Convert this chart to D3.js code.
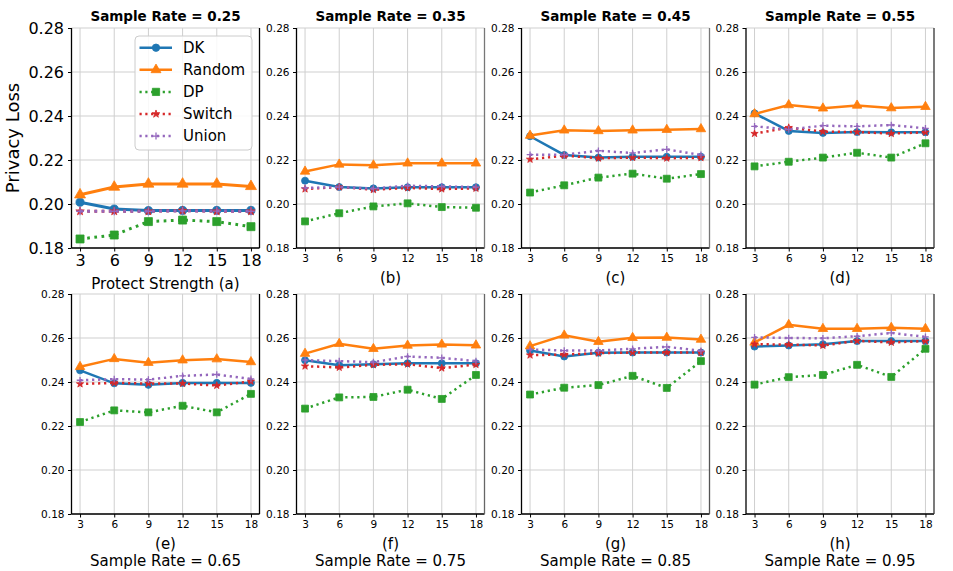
<!DOCTYPE html>
<html><head><meta charset="utf-8">
<script src="https://cdn.jsdelivr.net/npm/d3@7"></script>
<style>body{margin:0;background:#fff}svg{display:block;font-family:"DejaVu Sans",sans-serif}</style>
</head><body><svg id="c" width="953" height="571"></svg>
<script>
const protectStrength = [3, 6, 9, 12, 15, 18];
const yTicks = [0.18, 0.20, 0.22, 0.24, 0.26, 0.28];
const sampleRates = ["0.25", "0.35", "0.45", "0.55", "0.65", "0.75", "0.85", "0.95"];
const panelLetters = ["a", "b", "c", "d", "e", "f", "g", "h"];
const seriesNames = ["DK", "Random", "DP", "Switch", "Union"];

const dk = [
  [0.2008, 0.1977, 0.1970, 0.1971, 0.1971, 0.1971],
  [0.2106, 0.2077, 0.2071, 0.2076, 0.2076, 0.2076],
  [0.2308, 0.2223, 0.2211, 0.2215, 0.2215, 0.2215],
  [0.2412, 0.2332, 0.2323, 0.2327, 0.2326, 0.2326],
  [0.2453, 0.2394, 0.2387, 0.2396, 0.2396, 0.2396],
  [0.2499, 0.2476, 0.2481, 0.2485, 0.2485, 0.2485],
  [0.2543, 0.2516, 0.2533, 0.2534, 0.2534, 0.2534],
  [0.2561, 0.2566, 0.2572, 0.2586, 0.2586, 0.2586]
];
const random = [
  [0.2042, 0.2077, 0.2091, 0.2091, 0.2091, 0.2080],
  [0.2148, 0.2180, 0.2176, 0.2185, 0.2185, 0.2185],
  [0.2311, 0.2335, 0.2332, 0.2335, 0.2338, 0.2341],
  [0.2409, 0.2450, 0.2435, 0.2448, 0.2436, 0.2442],
  [0.2469, 0.2505, 0.2488, 0.2499, 0.2504, 0.2491],
  [0.2529, 0.2574, 0.2551, 0.2566, 0.2571, 0.2567],
  [0.2563, 0.2612, 0.2583, 0.2601, 0.2602, 0.2593],
  [0.2580, 0.2660, 0.2642, 0.2642, 0.2647, 0.2642]
];
const dp = [
  [0.1841, 0.1859, 0.1920, 0.1927, 0.1920, 0.1897],
  [0.1921, 0.1958, 0.1989, 0.2003, 0.1986, 0.1983],
  [0.2052, 0.2085, 0.2120, 0.2138, 0.2115, 0.2136],
  [0.2171, 0.2192, 0.2211, 0.2233, 0.2211, 0.2276],
  [0.2218, 0.2271, 0.2262, 0.2292, 0.2262, 0.2346],
  [0.2279, 0.2330, 0.2332, 0.2365, 0.2323, 0.2432],
  [0.2343, 0.2374, 0.2386, 0.2428, 0.2373, 0.2495],
  [0.2388, 0.2422, 0.2432, 0.2478, 0.2423, 0.2551]
];
const switchLoss = [
  [0.1967, 0.1967, 0.1967, 0.1970, 0.1967, 0.1967],
  [0.2068, 0.2077, 0.2065, 0.2073, 0.2068, 0.2071],
  [0.2203, 0.2220, 0.2208, 0.2211, 0.2208, 0.2210],
  [0.2320, 0.2347, 0.2329, 0.2327, 0.2320, 0.2326],
  [0.2391, 0.2396, 0.2393, 0.2393, 0.2384, 0.2403],
  [0.2472, 0.2466, 0.2478, 0.2481, 0.2463, 0.2479],
  [0.2522, 0.2525, 0.2531, 0.2534, 0.2534, 0.2534],
  [0.2572, 0.2570, 0.2566, 0.2587, 0.2580, 0.2586]
];
const union = [
  [0.1967, 0.1967, 0.1967, 0.1969, 0.1968, 0.1967],
  [0.2073, 0.2077, 0.2070, 0.2083, 0.2080, 0.2077],
  [0.2224, 0.2224, 0.2242, 0.2232, 0.2248, 0.2223],
  [0.2353, 0.2339, 0.2356, 0.2353, 0.2359, 0.2344],
  [0.2408, 0.2413, 0.2411, 0.2428, 0.2434, 0.2414],
  [0.2499, 0.2495, 0.2490, 0.2516, 0.2510, 0.2495],
  [0.2548, 0.2543, 0.2543, 0.2551, 0.2560, 0.2542],
  [0.2603, 0.2600, 0.2599, 0.2608, 0.2623, 0.2605]
];

const seriesData = [dk, random, dp, switchLoss, union];
const colors = ["#1f77b4", "#ff7f0e", "#2ca02c", "#d62728", "#9467bd"];
const dashed = [false, false, true, true, true];
const symbols = [d3.symbolCircle, d3.symbolTriangle, d3.symbolSquare, d3.symbolStar, d3.symbolPlus];
const strokeSym = [false, false, false, false, true];

const svg = d3.select("#c");
const lefts = [71.5, 296.5, 521.5, 746];
const tops = [28, 294];
const W = 188, H = 220;
const rightSpine = ["#000", "#777", "#777", "#333", "#000", "#666", "#555", "#333"];

function symSize(i, big) {
  const s = [52, 52, 64, 22, 22][i];
  return big ? s : s * 0.75;
}

for (let p = 0; p < 8; p++) {
  const row = Math.floor(p / 4), col = p % 4;
  const big = p === 0;
  const x0 = lefts[col], y0 = tops[row];
  const g = svg.append("g").attr("transform", `translate(${x0},${y0})`);
  const x = d3.scaleLinear().domain([2.25, 18.75]).range([0, W]);
  const y = d3.scaleLinear().domain([0.18, 0.28]).range([H, 0]);

  g.append("g").selectAll("line").data(protectStrength).join("line")
    .attr("x1", d => x(d)).attr("x2", d => x(d)).attr("y1", 0).attr("y2", H)
    .attr("stroke", "#cfcfcf").attr("stroke-width", 1);
  g.append("g").selectAll("line").data(yTicks).join("line")
    .attr("x1", 0).attr("x2", W).attr("y1", d => y(d)).attr("y2", d => y(d))
    .attr("stroke", "#cfcfcf").attr("stroke-width", 1);

  const fs = big ? 16 : 10.5;
  const xAxis = g.append("g").attr("transform", `translate(0,${H})`)
    .call(d3.axisBottom(x).tickValues(protectStrength).tickSize(3.5).tickPadding(big ? 3 : 3.5).tickFormat(d3.format("d")));
  const yAxis = g.append("g")
    .call(d3.axisLeft(y).tickValues(yTicks).tickSize(3.5).tickPadding(big ? 4 : 3.5).tickFormat(d3.format(".2f")));
  [xAxis, yAxis].forEach(a => {
    a.selectAll("text").attr("font-size", fs).attr("font-family", "DejaVu Sans").attr("fill", "#000");
    a.select(".domain").remove();
    a.selectAll("line").attr("stroke", "#000").attr("stroke-width", 1);
  });
  g.append("line").attr("x1", 0).attr("x2", 0).attr("y1", 0).attr("y2", H).attr("stroke", "#000").attr("stroke-width", 1.3);
  g.append("line").attr("x1", 0).attr("x2", W).attr("y1", H).attr("y2", H).attr("stroke", "#000").attr("stroke-width", 1.3);
  g.append("line").attr("x1", W).attr("x2", W).attr("y1", 0).attr("y2", H).attr("stroke", rightSpine[p]).attr("stroke-width", 1.3);

  const lw = big ? 3 : 2.5;
  seriesData.forEach((sd, si) => {
    const vals = sd[p];
    const line = d3.line().x((d, i) => x(protectStrength[i])).y(d => y(d));
    g.append("path").datum(vals).attr("d", line).attr("fill", "none")
      .attr("stroke", colors[si]).attr("stroke-width", lw)
      .attr("stroke-dasharray", dashed[si] ? `${lw * 0.9},${lw * 1.5}` : null)
      .attr("stroke-linecap", "butt");
    const sym = d3.symbol().type(symbols[si]).size(symSize(si, big));
    g.append("g").selectAll("path").data(vals).join("path")
      .attr("transform", (d, i) => `translate(${x(protectStrength[i])},${y(d)})`)
      .attr("d", sym)
      .attr("fill", strokeSym[si] ? "none" : colors[si])
      .attr("stroke", colors[si]).attr("stroke-width", strokeSym[si] ? 1.3 : 0.8);
  });

  if (row === 0) {
    svg.append("text").attr("x", x0 + W / 2).attr("y", 21).attr("text-anchor", "middle")
      .attr("font-size", 13.5).attr("font-weight", "bold").text(`Sample Rate = ${sampleRates[p]}`);
    if (p === 0) {
      svg.append("text").attr("x", x0 + W / 2).attr("y", 288.5).attr("text-anchor", "middle")
        .attr("font-size", 15).text(`Protect Strength (${panelLetters[p]})`);
    } else {
      svg.append("text").attr("x", x0 + W / 2).attr("y", 282.5).attr("text-anchor", "middle")
        .attr("font-size", 15).text(`(${panelLetters[p]})`);
    }
  } else {
    svg.append("text").attr("x", x0 + W / 2).attr("y", 548.5).attr("text-anchor", "middle")
      .attr("font-size", 15).text(`(${panelLetters[p]})`);
    svg.append("text").attr("x", x0 + W / 2).attr("y", 565.5).attr("text-anchor", "middle")
      .attr("font-size", 15).text(`Sample Rate = ${sampleRates[p]}`);
  }
}

svg.append("text").attr("transform", "translate(19,138) rotate(-90)").attr("text-anchor", "middle")
  .attr("font-size", 18).text("Privacy Loss");

const lg = svg.append("g").attr("transform", "translate(135,36)");
lg.append("rect").attr("x", 0).attr("y", 0).attr("width", 117).attr("height", 114).attr("rx", 4)
  .attr("fill", "#fff").attr("fill-opacity", 0.85).attr("stroke", "#cccccc").attr("stroke-width", 1);
seriesNames.forEach((name, si) => {
  const cy = 11.7 + si * 22.1;
  lg.append("line").attr("x1", 4.5).attr("x2", 37).attr("y1", cy).attr("y2", cy)
    .attr("stroke", colors[si]).attr("stroke-width", 2.5)
    .attr("stroke-dasharray", dashed[si] ? "2.2,3.6" : null);
  lg.append("path").attr("transform", `translate(21,${cy})`)
    .attr("d", d3.symbol().type(symbols[si]).size(symSize(si, false) * 1.1))
    .attr("fill", strokeSym[si] ? "none" : colors[si])
    .attr("stroke", colors[si]).attr("stroke-width", strokeSym[si] ? 1.3 : 0.8);
  lg.append("text").attr("x", 48).attr("y", cy + 5.3).attr("font-size", 15).text(name);
});
</script></body></html>
